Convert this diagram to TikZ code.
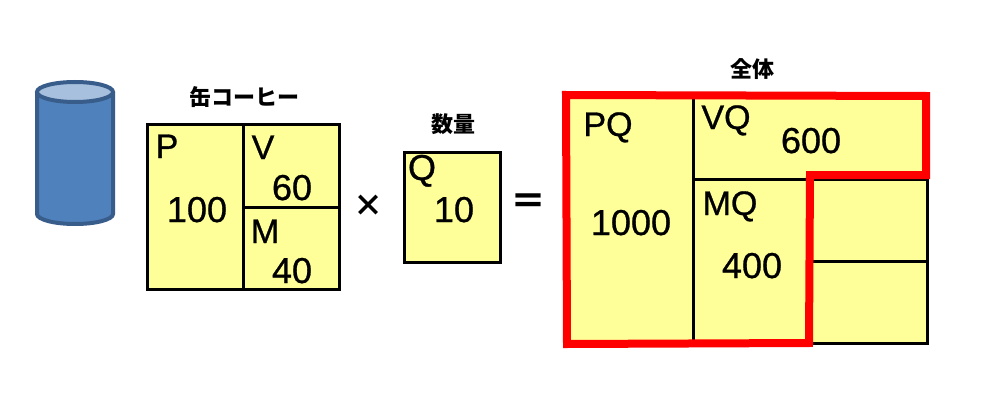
\documentclass[tikz,border=0pt]{standalone}
\usepackage{fontspec}
\setmainfont{Liberation Sans}[RawFeature={embolden=0.8}]
\newfontfamily\cjk{Noto Sans CJK JP}
\usetikzlibrary{positioning}
\definecolor{cellyellow}{HTML}{FFFF99}
\definecolor{canblue}{HTML}{4F81BD}
\definecolor{canedge}{HTML}{385D8A}
\definecolor{cantop}{HTML}{A7C0DE}
\tikzset{
  cellbox/.style={draw=black,fill=cellyellow,line width=3pt},
  cellline/.style={draw=black,line width=3pt},
  letter/.style={anchor=base,inner sep=0pt,font=\fontsize{34}{34}\selectfont},
  amount/.style={anchor=base,inner sep=0pt,font=\fontsize{36}{36}\selectfont},
  heading/.style={inner sep=0pt,font=\cjk\bfseries\fontsize{22}{22}\selectfont},
  opsign/.style={inner sep=0pt,font=\cjk\bfseries\fontsize{30}{30}\selectfont}
}
\begin{document}
\begin{tikzpicture}[x=1pt,y=-1pt]
\useasboundingbox (0,0) rectangle (999,412);
\fill[white] (0,0) rectangle (999,412);
% can
\draw[fill=canblue,draw=canedge,line width=4pt] (37,92) -- (37,214) arc[start angle=180,end angle=0,x radius=38,y radius=10] -- (113,92);
\draw[fill=cantop,draw=canedge,line width=4pt] (75,92) ellipse[x radius=38,y radius=10];
% unit box
\draw[cellbox] (147.5,124) rectangle (339.5,289.5);
\draw[cellline] (243.5,124) -- (243.5,289.5);
\draw[cellline] (243.5,207) -- (339.5,207);
\node[heading] (cantitle) at (244,97) {缶コーヒー};
\node[letter] (labelP) at (167,158) {P};
\node[amount] (valueP) at (197,222) {100};
\node[letter] (labelV) at (263,159) {V};
\node[amount] (valueV) at (292,200) {60};
\node[letter] (labelM) at (265,243) {M};
\node[amount] (valueM) at (292,283) {40};
\node[opsign] (times) at (368,206) {×};
% quantity box
\draw[cellbox] (404,152) rectangle (500.5,262);
\node[heading] (qtytitle) at (453,124) {数量};
\node[letter,font=\fontsize{36}{36}\selectfont] (labelQ) at (422,180) {Q};
\node[amount] (valueQ) at (454,222) {10};
\node[opsign,font=\cjk\bfseries\fontsize{36}{36}\selectfont] (equals) at (528,204) {＝};
% whole box
\draw[cellbox] (566,95) rectangle (927.5,343);
\draw[cellline] (693.5,95) -- (693.5,343);
\draw[cellline] (693.5,179) -- (927.5,179);
\draw[cellline] (810,261) -- (927.5,261);
\node[heading] (alltitle) at (752,69) {全体};
\node[letter] (labelPQ) at (608,136) {PQ};
\node[amount] (valuePQ) at (631,235) {1000};
\node[letter] (labelVQ) at (726,129) {VQ};
\node[amount] (valueVQ) at (811,153) {600};
\node[letter] (labelMQ) at (730,215) {MQ};
\node[amount] (valueMQ) at (752,278) {400};
\draw[red,line width=8pt,line join=miter] (566,95) -- (926,96) -- (926,175) -- (810,175) -- (809,343) -- (567,344) -- cycle;
\end{tikzpicture}
\end{document}
